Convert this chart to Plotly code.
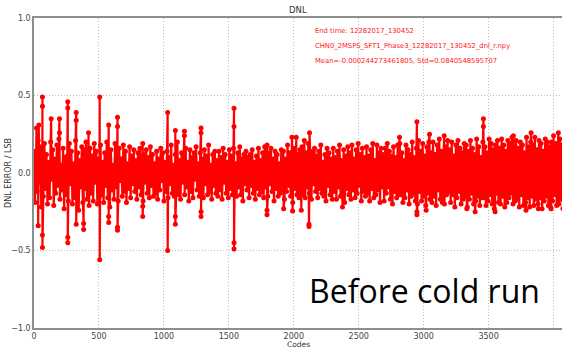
import plotly.graph_objects as go

# ---------------- data (read / estimated from the picture) ----------------
code_step = 8
base_values = [
    0.14, -0.19, 0.08, -0.12, 0.21, -0.06, 0.17, -0.22, 0.03, -0.15, 0.19, -0.1, 0.12, -0.2, 0.07, -0.16,
    0.2, -0.04, 0.15, -0.21, 0.09, -0.13, 0.18, -0.08, 0.22, -0.17, 0.05, -0.11, 0.16, -0.23, 0.1, -0.14,
    0.11, -0.18, 0.19, -0.07, 0.14, -0.2, 0.06, -0.16, 0.21, -0.12, 0.13, -0.24, 0.08, -0.09, 0.17, -0.19,
    0.15, -0.1, 0.2, -0.17, 0.04, -0.21, 0.16, -0.13, 0.11, -0.18, 0.19, -0.06, 0.14, -0.2, 0.09, -0.15,
    0.18, -0.14, 0.07, -0.19, 0.13, -0.08, 0.2, -0.16, 0.1, -0.22, 0.15, -0.11, 0.05, -0.17, 0.19, -0.09,
    0.12, -0.18, 0.16, -0.05, 0.09, -0.15, 0.18, -0.12, 0.14, -0.19, 0.06, -0.1, 0.17, -0.16, 0.11, -0.07,
    0.15, -0.12, 0.08, -0.17, 0.13, -0.09, 0.16, -0.14, 0.04, -0.18, 0.12, -0.06, 0.15, -0.13, 0.1, -0.16,
    0.17, -0.08, 0.12, -0.15, 0.06, -0.13, 0.14, -0.17, 0.09, -0.11, 0.16, -0.05, 0.13, -0.18, 0.07, -0.12,
    0.14, -0.16, 0.1, -0.07, 0.18, -0.13, 0.05, -0.15, 0.12, -0.1, 0.2, -0.14, 0.08, -0.17, 0.13, -0.06,
    0.11, -0.14, 0.16, -0.09, 0.07, -0.18, 0.15, -0.12, 0.1, -0.16, 0.13, -0.04, 0.17, -0.11, 0.06, -0.15,
    0.13, -0.1, 0.09, -0.16, 0.15, -0.07, 0.11, -0.14, 0.18, -0.12, 0.05, -0.17, 0.12, -0.08, 0.14, -0.13,
    0.08, -0.15, 0.14, -0.11, 0.1, -0.17, 0.16, -0.06, 0.12, -0.13, 0.07, -0.16, 0.15, -0.1, 0.11, -0.14,
    0.16, -0.12, 0.06, -0.15, 0.13, -0.09, 0.17, -0.14, 0.09, -0.18, 0.12, -0.07, 0.14, -0.11, 0.1, -0.16,
    0.12, -0.08, 0.15, -0.13, 0.07, -0.17, 0.11, -0.1, 0.16, -0.14, 0.08, -0.12, 0.13, -0.16, 0.17, -0.09,
    0.1, -0.15, 0.13, -0.07, 0.16, -0.12, 0.09, -0.18, 0.14, -0.1, 0.12, -0.15, 0.06, -0.13, 0.15, -0.11,
    0.14, -0.17, 0.09, -0.12, 0.18, -0.08, 0.13, -0.15, 0.11, -0.19, 0.16, -0.1, 0.07, -0.14, 0.12, -0.16,
    0.15, -0.11, 0.17, -0.14, 0.08, -0.16, 0.13, -0.09, 0.19, -0.13, 0.1, -0.17, 0.14, -0.07, 0.16, -0.12,
    0.11, -0.16, 0.14, -0.1, 0.18, -0.13, 0.07, -0.15, 0.12, -0.18, 0.16, -0.08, 0.13, -0.14, 0.09, -0.17,
    0.16, -0.12, 0.1, -0.17, 0.14, -0.09, 0.18, -0.15, 0.08, -0.13, 0.15, -0.19, 0.11, -0.1, 0.17, -0.14,
    0.13, -0.17, 0.18, -0.11, 0.09, -0.16, 0.15, -0.13, 0.19, -0.08, 0.12, -0.18, 0.16, -0.12, 0.1, -0.15,
    0.17, -0.13, 0.11, -0.18, 0.15, -0.1, 0.19, -0.16, 0.08, -0.14, 0.18, -0.11, 0.13, -0.19, 0.16, -0.09,
    0.12, -0.18, 0.16, -0.13, 0.19, -0.09, 0.14, -0.17, 0.11, -0.2, 0.17, -0.12, 0.1, -0.16, 0.18, -0.14,
    0.19, -0.14, 0.13, -0.19, 0.08, -0.16, 0.18, -0.11, 0.15, -0.2, 0.12, -0.15, 0.2, -0.13, 0.1, -0.18,
    0.16, -0.2, 0.21, -0.12, 0.14, -0.18, 0.19, -0.15, 0.11, -0.21, 0.17, -0.13, 0.2, -0.17, 0.13, -0.19,
    0.2, -0.15, 0.12, -0.21, 0.18, -0.11, 0.22, -0.17, 0.14, -0.19, 0.09, -0.2, 0.17, -0.14, 0.21, -0.12,
    0.15, -0.19, 0.2, -0.14, 0.11, -0.22, 0.18, -0.16, 0.21, -0.12, 0.16, -0.2, 0.13, -0.17, 0.19, -0.15,
    0.18, -0.22, 0.14, -0.17, 0.21, -0.13, 0.16, -0.2, 0.12, -0.18, 0.22, -0.15, 0.17, -0.21, 0.1, -0.16,
    0.2, -0.16, 0.17, -0.21, 0.13, -0.18, 0.22, -0.14, 0.19, -0.2, 0.15, -0.23, 0.18, -0.13, 0.21, -0.19,
    0.16, -0.2, 0.22, -0.15, 0.18, -0.22, 0.14, -0.19, 0.21, -0.16, 0.19, -0.13, 0.23, -0.2, 0.15, -0.18,
    0.21, -0.17, 0.16, -0.22, 0.2, -0.14, 0.18, -0.21, 0.13, -0.19, 0.23, -0.16, 0.17, -0.22, 0.2, -0.15,
    0.18, -0.21, 0.23, -0.17, 0.15, -0.2, 0.21, -0.16, 0.19, -0.23, 0.14, -0.18, 0.22, -0.15, 0.2, -0.21,
    0.17, -0.22, 0.2, -0.18, 0.24, -0.14, 0.19, -0.21, 0.16, -0.2, 0.22, -0.17, 0.18, -0.23, 0.21, -0.16,
]
base_codes = [i * code_step for i in range(len(base_values))]

# isolated large DNL errors (spikes / outliers)
spike_codes = [
    19, 32, 37,
    65, 65, 65, 65,
    132, 196, 196,
    260, 260, 260, 260,
    325, 325, 325,
    382, 382, 420,
    506, 506,
    575, 575, 575,
    643, 643, 643, 643,
    837, 837, 837,
    1029, 1029,
    1088, 1088, 1088,
    1158, 1158,
    1286, 1286, 1286, 1286,
    1540, 1540, 1540, 1540,
    1794, 1794, 1794,
    1922, 1986, 1991, 2019, 2058, 2081,
    2117, 2117, 2121, 2375, 2814,
    2948, 2948, 2948,
    3019, 3045, 3158, 3332, 3396,
    3460, 3460,
    3550, 3691, 3788, 3827, 3883, 3981, 4037,
]
spike_values = [
    0.29, -0.34, 0.31,
    0.49, 0.43, -0.40, -0.48,
    0.35, 0.35, 0.26,
    0.46, 0.42, -0.415, -0.45,
    0.39, 0.34, -0.33,
    -0.325, -0.365, 0.26,
    0.49, -0.56,
    0.31, -0.28, -0.32,
    0.36, 0.30, -0.35, -0.37,
    0.19, -0.215, -0.28,
    0.39, -0.50,
    0.275, -0.28, -0.33,
    0.27, 0.24,
    0.29, 0.26, -0.25, -0.28,
    0.417, 0.30, -0.45, -0.49,
    0.18, -0.24, -0.27,
    -0.23, 0.23, -0.245, 0.23, -0.24, 0.21,
    -0.33, -0.345, 0.26, -0.22, 0.23,
    0.33, -0.25, -0.27,
    -0.24, 0.25, 0.24, -0.23, -0.25,
    0.35, 0.30,
    -0.25, 0.24, -0.24, 0.26, -0.23, -0.23, 0.26,
]

x_ticks = [0, 500, 1000, 1500, 2000, 2500, 3000, 3500, 4000]
y_ticks = [-1.0, -0.5, 0.0, 0.5, 1.0]

title_text = "DNL"
x_label = "Codes"
y_label = "DNL ERROR / LSB"
info_lines = [
    "End time: 12282017_130452",
    "CHN0_2MSPS_SFT1_Phase3_12282017_130452_dnl_r.npy",
    "Mean=-0.000244273461805, Std=0.0840548595707",
]
overlay_text = "Before cold run"

# ---------------- figure ----------------
pts = sorted(zip(base_codes + spike_codes, base_values + spike_values), key=lambda p: p[0])
xs = [p[0] for p in pts]
ys = [p[1] for p in pts]

fig = go.Figure()
fig.add_trace(go.Scatter(
    x=xs, y=ys, mode="lines+markers",
    line=dict(color="#ff0000", width=2.2, simplify=False),
    marker=dict(color="#ff0000", size=5, line=dict(width=0)),
    hoverinfo="skip",
))

axis_common = dict(
    showgrid=True, gridcolor="#bdbdbd", griddash="1px,2px", gridwidth=1,
    zeroline=False, showline=True, linecolor="#8e8e8e", linewidth=1.5,
    ticks="", tickfont=dict(family="DejaVu Sans", size=8, color="#444"),
    automargin=False, layer="above traces",
)
fig.update_xaxes(range=[0, 4065], tickvals=x_ticks, ticktext=[str(v) for v in x_ticks],
                 mirror=True, **axis_common)
fig.update_yaxes(range=[-1, 1], tickvals=y_ticks, tickformat=".1f", mirror=False,
                 **axis_common)

ann = [
    dict(text=title_text, x=0.5, y=1, xref="paper", yref="paper", yanchor="bottom",
         yshift=1, showarrow=False, font=dict(family="DejaVu Sans", size=8.5, color="#333")),
    dict(text=x_label, x=0.5, y=0, xref="paper", yref="paper", yanchor="middle",
         yshift=-16, showarrow=False, font=dict(family="DejaVu Sans", size=7.5, color="#333")),
    dict(text=y_label, x=0, y=0.5, xref="paper", yref="paper", xanchor="center",
         xshift=-26, textangle=-90, showarrow=False,
         font=dict(family="DejaVu Sans", size=8, color="#333")),
    dict(text=overlay_text, x=0.739, y=0.122, xref="paper", yref="paper",
         xanchor="center", yanchor="middle", showarrow=False,
         font=dict(family="Open Sans", size=32, color="#000")),
]
for i, (line, yp) in enumerate(zip(info_lines, [0.958, 0.9097, 0.861])):
    ann.append(dict(text=line, x=0.528, y=yp, xref="paper", yref="paper",
                    xanchor="left", yanchor="middle", showarrow=False,
                    font=dict(family="DejaVu Sans", size=6.8, color="#ff2020")))

fig.update_layout(
    width=562, height=350,
    margin=dict(l=34, r=0, t=18, b=22, autoexpand=False),
    plot_bgcolor="white", paper_bgcolor="white",
    showlegend=False, annotations=ann,
)

fig.write_html("out.html", config={"displayModeBar": False},
               post_script="document.body.style.margin='0px';")
